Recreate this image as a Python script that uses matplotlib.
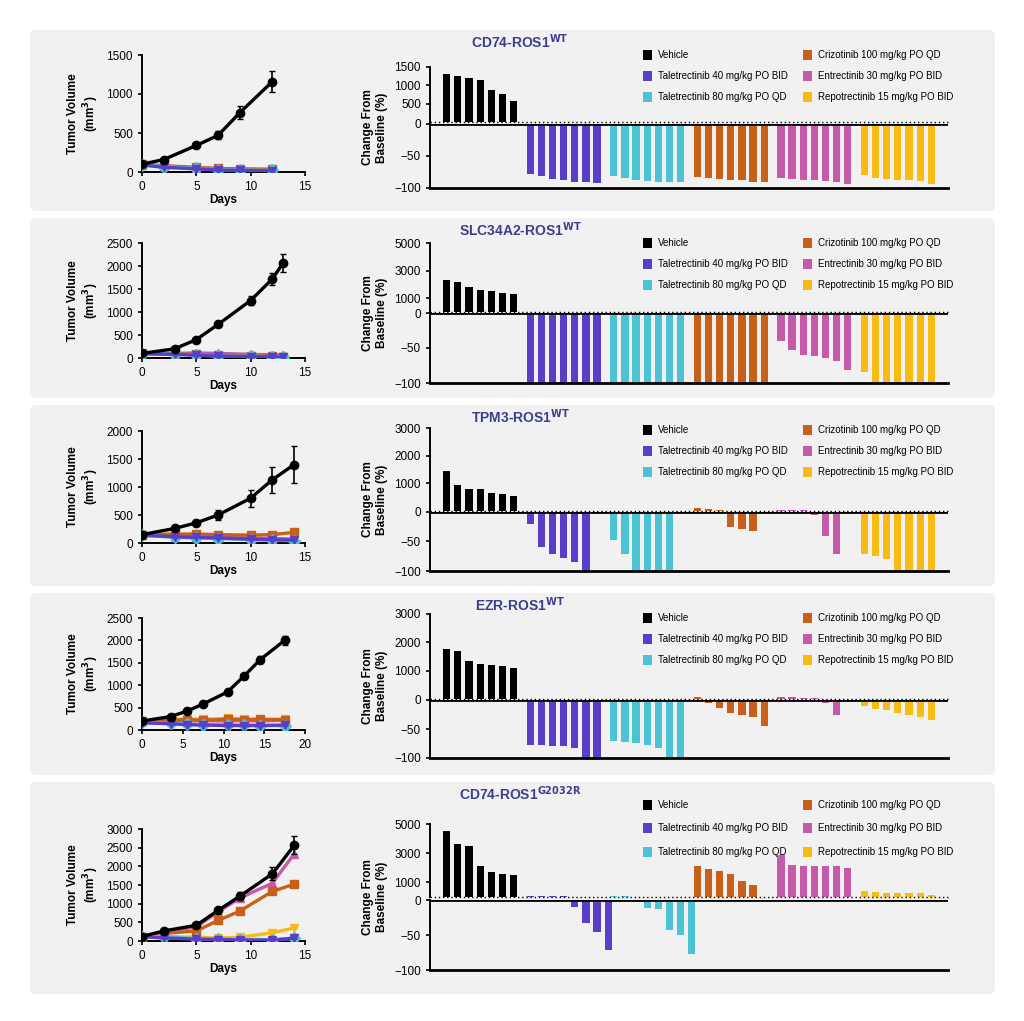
import numpy as np
import matplotlib
matplotlib.use("Agg")
import matplotlib.pyplot as plt
from matplotlib.patches import FancyBboxPatch

plt.rcParams["font.family"] = ["Liberation Sans", "DejaVu Sans"]

W, H = 1024, 1021
COLORS = ["black", "#5a3ec8", "#4cc3d4", "#c8601a", "#c45aa8", "#f8bb14"]
MARKERS = ["o", "v", "D", "s", "^", "v"]
LEGEND = ["Vehicle", "Taletrectinib 40 mg/kg PO BID", "Taletrectinib 80 mg/kg PO QD",
          "Crizotinib 100 mg/kg PO QD", "Entrectinib 30 mg/kg PO BID", "Repotrectinib 15 mg/kg PO BID"]

titles = ["CD74-ROS1", "SLC34A2-ROS1", "TPM3-ROS1", "EZR-ROS1", "CD74-ROS1"]
supers = ["WT", "WT", "WT", "WT", "G2032R"]

# tumour volume: days and 6 series (vehicle, tal40, tal80, criz, entrec, repo)
days = [
    [0, 2, 5, 7, 9, 12],
    [0, 3, 5, 7, 10, 12, 13],
    [0, 3, 5, 7, 10, 12, 14],
    [0, 3.5, 5.5, 7.5, 10.5, 12.5, 14.5, 17.5],
    [0, 2, 5, 7, 9, 12, 14],
]
volumes = [
    [[100, 160, 340, 470, 760, 1160], [90, 60, 40, 25, 20, 15], [95, 70, 45, 30, 25, 20],
     [100, 80, 60, 45, 40, 35], [95, 75, 55, 40, 35, 30], [100, 80, 50, 35, 30, 25]],
    [[100, 200, 400, 730, 1250, 1720, 2070], [90, 80, 60, 40, 30, 25, 20], [95, 85, 65, 45, 35, 30, 25],
     [100, 90, 80, 60, 50, 40, 30], [100, 100, 110, 100, 80, 70, 60], [95, 85, 70, 50, 40, 30, 25]],
    [[150, 260, 360, 500, 800, 1130, 1400], [140, 110, 100, 90, 70, 60, 50], [140, 100, 90, 80, 60, 50, 40],
     [150, 160, 160, 150, 140, 150, 190], [145, 120, 110, 100, 90, 80, 70], [140, 110, 100, 90, 70, 60, 50]],
    [[200, 300, 420, 580, 850, 1200, 1570, 2000], [160, 140, 120, 110, 100, 100, 100, 110],
     [170, 150, 130, 120, 110, 110, 100, 100], [200, 220, 230, 220, 240, 230, 240, 230],
     [200, 210, 200, 210, 200, 210, 200, 220], [200, 230, 250, 240, 260, 250, 230, 240]],
    [[120, 270, 420, 820, 1200, 1800, 2560], [120, 80, 50, 40, 30, 20, 80], [120, 120, 60, 50, 40, 40, 70],
     [120, 200, 270, 550, 800, 1330, 1520], [120, 250, 380, 780, 1150, 1550, 2330],
     [120, 120, 100, 80, 100, 220, 350]],
]
vol_err = [120, 180, 320, 90, 230]
vol_ymax = [1500, 2500, 2000, 2500, 3000]
vol_yticks = [[0, 500, 1000, 1500], [0, 500, 1000, 1500, 2000, 2500], [0, 500, 1000, 1500, 2000],
              [0, 500, 1000, 1500, 2000, 2500], [0, 500, 1000, 1500, 2000, 2500, 3000]]
vol_xmax = [15, 15, 15, 20, 15]
vol_xticks = [[0, 5, 10, 15]] * 3 + [[0, 5, 10, 15, 20], [0, 5, 10, 15]]

# waterfall: change from baseline (%) per group
changes = [
    [[1300, 1250, 1200, 1150, 880, 750, 580], [-78, -82, -86, -88, -90, -91, -92],
     [-82, -85, -87, -89, -90, -91, -91], [-83, -85, -86, -87, -88, -90, -91],
     [-84, -86, -87, -88, -89, -91, -93], [-80, -84, -86, -88, -88, -89, -93]],
    [[2300, 2200, 1800, 1600, 1500, 1400, 1300], [-100] * 7, [-100] * 7, [-100] * 7,
     [-40, -53, -60, -62, -64, -68, -82], [-85, -100, -100, -100, -100, -100, -100]],
    [[1450, 950, 800, 780, 650, 600, 550], [-20, -60, -72, -78, -85, -100],
     [-47, -72, -100, -100, -100, -100], [100, 80, 40, -25, -28, -32],
     [30, 30, 20, -5, -40, -72], [-72, -74, -80, -100, -100, -100, -100]],
    [[1750, 1700, 1350, 1250, 1200, 1150, 1100], [-77, -78, -79, -80, -82, -100, -100],
     [-70, -72, -74, -77, -83, -100, -100], [60, -5, -13, -22, -25, -30, -45],
     [80, 60, 50, 40, -5, -25], [-10, -15, -18, -22, -26, -30, -35]],
    [[4500, 3600, 3500, 2100, 1700, 1600, 1500], [50, 50, 50, 50, -10, -33, -45, -72],
     [50, 50, -3, -12, -13, -43, -50, -77], [2100, 1900, 1800, 1600, 1100, 800],
     [2900, 2200, 2100, 2100, 2100, 2100, 2000], [400, 350, 300, 250, 250, 250, 150]],
]
wf_ymax = [1500, 5000, 3000, 3000, 5000]
wf_yticks = [[500, 1000, 1500], [1000, 3000, 5000], [1000, 2000, 3000],
             [1000, 2000, 3000], [1000, 3000, 5000]]

# pixel layout per panel
panel_box = [(30, 211), (218, 398), (405, 586), (593, 775), (782, 994)]
left_y = [(55, 172), (243, 358), (431, 543), (618, 730), (829, 941)]
up_y = [(67, 122), (243, 312), (428, 511), (614, 699), (824, 897)]
low_y = [(124, 188), (313, 383), (512, 571), (700, 758), (900, 970)]


def ax_px(x0, y0, x1, y1):
    return fig.add_axes([x0 / W, 1 - y1 / H, (x1 - x0) / W, (y1 - y0) / H])


fig = plt.figure(figsize=(W / 100, H / 100), dpi=100)
bg = fig.add_axes([0, 0, 1, 1])
bg.set_xlim(0, W)
bg.set_ylim(H, 0)
bg.axis("off")

for p in range(5):
    t0, t1 = panel_box[p]
    bg.add_patch(FancyBboxPatch((30, t0), 965, t1 - t0, boxstyle="round,pad=0,rounding_size=6",
                                fc="#f1f1f1", ec="none"))
    bg.text(520, t0 + 12, f"{titles[p]}$^{{\\mathbf{{{supers[p]}}}}}$", ha="center", va="center",
            color="#3c3f8e", fontsize=10, fontweight="bold")
    # legend
    ly = [t0 + 25, t0 + 46, t0 + 67] if p < 4 else [t0 + 23, t0 + 46, t0 + 70]
    for k, lab in enumerate(LEGEND):
        lx = 648 if k < 3 else 808
        yy = ly[k % 3]
        bg.add_patch(plt.Rectangle((lx - 5, yy - 5), 9, 10, fc=COLORS[k], ec="none"))
        bg.text(lx + 10, yy, lab, va="center", fontsize=7)

    # left: tumour volume
    ax = ax_px(142, left_y[p][0], 305, left_y[p][1])
    ax.set_facecolor("none")
    for k in range(6):
        d = days[p]
        v = volumes[p][k]
        err = [0] * len(v)
        if k == 0:
            err = [vol_err[p] * (i / (len(v) - 1)) ** 2 + 10 for i in range(len(v))]
        ax.errorbar(d, v, yerr=err, color=COLORS[k], marker=MARKERS[k], ms=6, lw=2.4,
                    capsize=2, elinewidth=1.2, zorder=10 - k if k else 12)
    ax.set_xlim(0, vol_xmax[p])
    ax.set_ylim(0, vol_ymax[p])
    ax.set_xticks(vol_xticks[p])
    ax.set_yticks(vol_yticks[p])
    ax.tick_params(labelsize=8.5, width=1.2, length=3)
    ax.spines[["top", "right"]].set_visible(False)
    ax.spines[["left", "bottom"]].set_linewidth(1.4)
    ax.set_xlabel("Days", fontsize=8.5, fontweight="bold", labelpad=1)
    ax.set_ylabel("Tumor Volume\n(mm$^\\mathbf{3}$)", fontsize=8.5, fontweight="bold")

    # right: waterfall, broken axis
    xs, vals, cols = [], [], []
    for g, grp in enumerate(changes[p]):
        for i, v in enumerate(grp):
            xs.append(g * 7.5 + i)
            vals.append(v)
            cols.append(COLORS[g])
    xs = np.array(xs)
    vals = np.array(vals)
    up = ax_px(430, up_y[p][0], 948, up_y[p][1])
    lo = ax_px(430, low_y[p][0], 948, low_y[p][1])
    for a in (up, lo):
        a.set_facecolor("none")
        a.set_xlim(-1.5, 45)
        a.set_xticks([])
        a.spines[["top", "right", "bottom"]].set_visible(False)
        a.spines["left"].set_linewidth(1.4)
        a.tick_params(labelsize=8.5, width=1.2, length=3)
    pos = vals > 0
    up.bar(xs[pos], vals[pos], width=0.65, color=[c for c, m in zip(cols, pos) if m])
    up.set_ylim(0, wf_ymax[p])
    up.set_yticks(wf_yticks[p])
    up.axhline(0, color="black", lw=1, ls=(0, (1, 2)), clip_on=False)
    neg = vals < 0
    lo.bar(xs[neg], vals[neg], width=0.65, color=[c for c, m in zip(cols, neg) if m])
    lo.set_ylim(-100, 0)
    lo.set_yticks([0, -50, -100])
    lo.axhline(0, color="black", lw=2)
    lo.axhline(-100, color="black", lw=2, clip_on=False)
    fig.text(375 / W, 1 - (up_y[p][0] + low_y[p][1]) / 2 / H, "Change From\nBaseline (%)",
             rotation=90, ha="center", va="center", fontsize=8.5, fontweight="bold")

fig.savefig("out.png", dpi=100)
